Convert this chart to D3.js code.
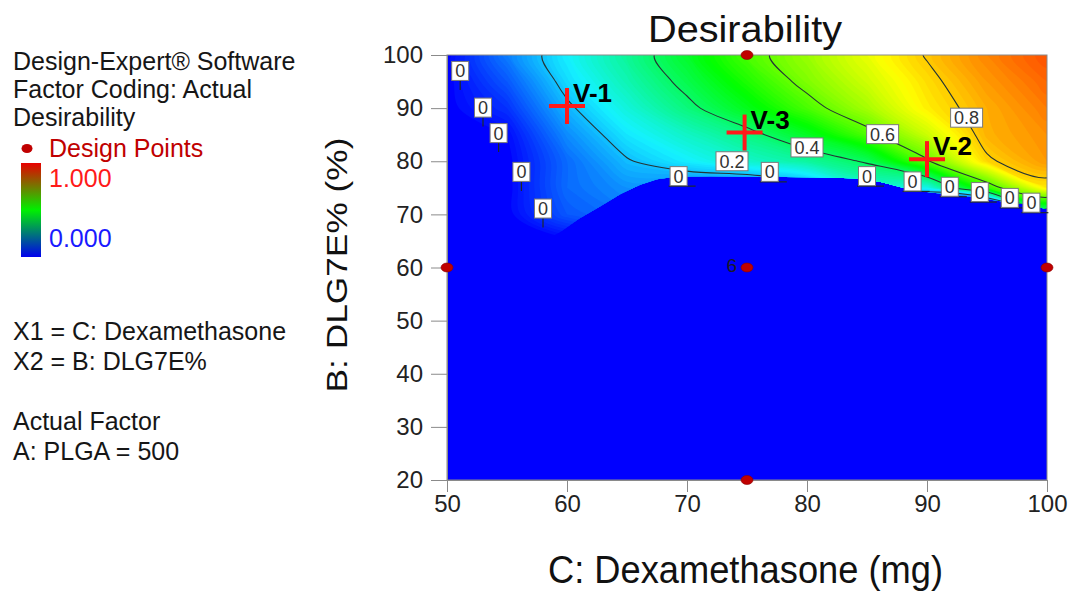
<!DOCTYPE html>
<html>
<head>
<meta charset="utf-8">
<script src="https://cdn.jsdelivr.net/npm/d3@7"></script>
<style>
  html, body { margin: 0; padding: 0; background: #ffffff; }
  svg { display: block; }
</style>
</head>
<body>
<svg id="chart" width="1078" height="595"></svg>
<script>
// ---------------- DATA ----------------
// Grid of desirability estimates: columns = C: Dexamethasone, rows = B: DLG7E%
const gridX = [50, 55, 60, 65, 70, 75, 80, 85, 90, 95, 100];
const gridY = [100, 95, 90, 85, 80, 75, 70, 65];
const desirability = [
  [0, 0.13, 0.25,  0.35,  0.46,  0.57,  0.65,  0.73,  0.805, 0.87,  0.92],
  [0, 0.09, 0.226, 0.325, 0.425, 0.528, 0.624, 0.703, 0.783, 0.85,  0.90],
  [0, 0.05, 0.186, 0.285, 0.379, 0.474, 0.57,  0.662, 0.765, 0.83,  0.88],
  [0, 0.01, 0.144, 0.239, 0.306, 0.373, 0.465, 0.574, 0.699, 0.825, 0.86],
  [0, 0,    0.11,  0.194, 0.247, 0.30,  0.345, 0.41,  0.59,  0.79,  0.85],
  [0, 0,    0.11,  0.15,  0.12,  0.10,  0.15,  0.285, 0.27,  0.55,  0.77],
  [0, 0,    0.09,  0.12,  0,     0,     0,     0,     -0.2,  -0.39, 0.30],
  [0, 0,    0,     0,     0,     0,     0,     0,     0,     0,     0]
];
// Edge of the feasible (non-zero) region
const boundaryX = [50, 58.5, 59.5, 61, 62.75, 64.5, 66.1, 67.5, 69, 72, 76, 80, 84, 86, 88, 90, 92, 94, 96, 98, 100];
const boundaryY = [65.5, 65.5, 66.8, 69.2, 71.5, 73.9, 75.6, 76.6, 77.1, 77.2, 77.1, 77.0, 76.8, 76.2, 75.0, 74.2, 73.7, 73.2, 72.5, 72.0, 71.0];

const contourLevels = [0.2, 0.4, 0.6, 0.8];
const contourLabelText = ["0.2", "0.4", "0.6", "0.8"];
const contourLabelX = [73.75, 80.0, 86.3, 93.3];
const contourLabelY = [80.0, 82.6, 85.1, 88.2];

const zeroLeftX = [51.1, 53.0, 54.3, 56.2, 58.0];
const zeroLeftY = [97.0, 90.1, 85.3, 78.0, 71.1];
const zeroEdgeX = [69.3, 76.9, 85.0, 88.8, 91.9, 94.4, 96.9, 98.7];
const zeroEdgeY = [77.2, 78.0, 77.2, 76.2, 75.2, 74.2, 73.1, 72.2];

const designX = [75, 50, 75, 100, 75];
const designY = [100, 60, 60, 60, 20];
const designLabel = ["", "", "6", "", ""];

const vNames = ["V-1", "V-2", "V-3"];
const vX = [60, 90, 74.8];
const vY = [90.4, 80.4, 85.4];

const xTicks = [50, 60, 70, 80, 90, 100];
const yTicks = [20, 30, 40, 50, 60, 70, 80, 90, 100];

const legendTop = ["Design-Expert\u00AE Software", "Factor Coding: Actual", "Desirability"];
const legendBottom = ["X1 = C: Dexamethasone", "X2 = B: DLG7E%", "", "Actual Factor", "A: PLGA = 500"];

// ---------------- DRAWING ----------------
const FONT = "'Liberation Sans', Arial, Helvetica, sans-serif";
const svg = d3.select("#chart");

const x = d3.scaleLinear().domain([50, 100]).range([447, 1047]);
const y = d3.scaleLinear().domain([20, 100]).range([480, 55]);
const color = d3.scaleLinear()
  .domain([0, 0.25, 0.5, 0.75, 1])
  .range(["#0000ff", "#14f2ff", "#00ff00", "#ffff00", "#ff0000"])
  .clamp(true);

const defs = svg.append("defs");
// feasible region clip
const clipPts = [[50, 100], [100, 100]];
for (let i = boundaryX.length - 1; i >= 0; i--) clipPts.push([boundaryX[i], boundaryY[i]]);
defs.append("clipPath").attr("id", "feasible")
  .append("path")
  .attr("d", d3.line()(clipPts.map(p => [x(p[0]), y(p[1])])) + "Z");

// colour bar gradient
const grad = defs.append("linearGradient").attr("id", "cbar")
  .attr("x1", 0).attr("y1", 0).attr("x2", 0).attr("y2", 1);
grad.append("stop").attr("offset", "0%").attr("stop-color", "#e80000");
grad.append("stop").attr("offset", "50%").attr("stop-color", "#00f000");
grad.append("stop").attr("offset", "100%").attr("stop-color", "#0000ee");

// base (zero desirability)
svg.append("rect")
  .attr("x", x(50)).attr("y", y(100))
  .attr("width", x(100) - x(50)).attr("height", y(20) - y(100))
  .attr("fill", color(0));

const nx = gridX.length, ny = gridY.length;
const flat = desirability.flat();
const stepX = gridX[1] - gridX[0];
const stepY = gridY[0] - gridY[1];
const gx = c => x(gridX[0] + (c - 0.5) * stepX);
const gy = r => y(gridY[0] - (r - 0.5) * stepY);
const smooth = d3.line().curve(d3.curveCatmullRomClosed.alpha(0.5));
function multiPath(mp) {
  let d = "";
  mp.coordinates.forEach(poly => poly.forEach(ring => {
    const pts = ring.slice(0, -1).map(p => [gx(p[0]), gy(p[1])]);
    if (pts.length > 2) d += smooth(pts);
  }));
  return d;
}

const field = svg.append("g").attr("clip-path", "url(#feasible)");
const bands = d3.contours().size([nx, ny]).thresholds(d3.range(0.01, 1.0, 0.01))(flat);
field.selectAll("path.band").data(bands).join("path")
  .attr("class", "band")
  .attr("d", multiPath)
  .attr("fill", d => color(d.value + 0.005));

const lines = d3.contours().size([nx, ny]).thresholds(contourLevels)(flat);
field.selectAll("path.cline").data(lines).join("path")
  .attr("class", "cline")
  .attr("d", multiPath)
  .attr("fill", "none")
  .attr("stroke", "#253535")
  .attr("stroke-width", 1.1);

// frame
svg.append("rect")
  .attr("x", x(50)).attr("y", y(100))
  .attr("width", x(100) - x(50)).attr("height", y(20) - y(100))
  .attr("fill", "none").attr("stroke", "#8a8a8a").attr("stroke-width", 1);

// axes
const xAxis = d3.axisBottom(x).tickValues(xTicks).tickSize(12).tickPadding(3).tickSizeOuter(0);
const gxA = svg.append("g").attr("transform", `translate(0,${y(20)})`).call(xAxis);
gxA.select(".domain").attr("stroke", "#8a8a8a");
gxA.selectAll(".tick line").attr("stroke", "#8a8a8a");
gxA.selectAll(".tick text").attr("font-family", FONT).attr("font-size", 24).attr("fill", "#222");

const yAxis = d3.axisLeft(y).tickValues(yTicks).tickSize(16).tickPadding(8).tickSizeOuter(0);
const gyA = svg.append("g").attr("transform", `translate(${x(50)},0)`).call(yAxis);
gyA.select(".domain").attr("stroke", "#8a8a8a");
gyA.selectAll(".tick line").attr("stroke", "#8a8a8a");
gyA.selectAll(".tick text").attr("font-family", FONT).attr("font-size", 24).attr("fill", "#222");

// titles
svg.append("text").attr("x", 745).attr("y", 42)
  .attr("text-anchor", "middle").attr("font-family", FONT).attr("font-size", 37)
  .attr("textLength", 194).attr("lengthAdjust", "spacingAndGlyphs")
  .attr("fill", "#111").text("Desirability");
svg.append("text").attr("x", 745.5).attr("y", 583)
  .attr("text-anchor", "middle").attr("font-family", FONT).attr("font-size", 38)
  .attr("textLength", 395).attr("lengthAdjust", "spacingAndGlyphs")
  .attr("fill", "#111").text("C: Dexamethasone (mg)");
svg.append("text").attr("transform", "translate(347,265) rotate(-90)")
  .attr("text-anchor", "middle").attr("font-family", FONT).attr("font-size", 29)
  .attr("textLength", 255).attr("lengthAdjust", "spacingAndGlyphs")
  .attr("fill", "#111").text("B: DLG7E% (%)");

// zero-contour labels and their small tails
const tails = svg.append("g").attr("stroke", "#1e2a2a").attr("stroke-width", 1.2);
zeroLeftX.forEach((v, i) => {
  tails.append("line").attr("x1", x(v)).attr("x2", x(v))
    .attr("y1", y(zeroLeftY[i]) + 9).attr("y2", y(zeroLeftY[i]) + 19);
});
zeroEdgeX.forEach((v, i) => {
  tails.append("line").attr("x1", x(v) - 10).attr("x2", x(v) + 17)
    .attr("y1", y(zeroEdgeY[i]) + 10).attr("y2", y(zeroEdgeY[i]) + 10);
});

function boxLabel(g, cx, cy, txt) {
  const w = txt.length > 1 ? 32 : 17, h = 19;
  g.append("rect").attr("x", cx - w / 2).attr("y", cy - h / 2)
    .attr("width", w).attr("height", h)
    .attr("fill", "#ffffff").attr("stroke", "#7a7a7a").attr("stroke-width", 1);
  g.append("text").attr("x", cx).attr("y", cy + 6.5)
    .attr("text-anchor", "middle").attr("font-family", FONT).attr("font-size", 18)
    .attr("fill", "#333").text(txt);
}
const labelsG = svg.append("g");
zeroLeftX.forEach((v, i) => boxLabel(labelsG, x(v), y(zeroLeftY[i]), "0"));
zeroEdgeX.forEach((v, i) => boxLabel(labelsG, x(v), y(zeroEdgeY[i]), "0"));
contourLabelX.forEach((v, i) => boxLabel(labelsG, x(v), y(contourLabelY[i]), contourLabelText[i]));

// design points
svg.append("g").selectAll("ellipse").data(designX).join("ellipse")
  .attr("cx", (d) => x(d)).attr("cy", (d, i) => y(designY[i]))
  .attr("rx", 6).attr("ry", 4.5)
  .attr("fill", "#c00000").attr("stroke", "#8a0000").attr("stroke-width", 0.6);
svg.append("g").selectAll("text").data(designX).join("text")
  .attr("x", d => x(d) - 10).attr("y", (d, i) => y(designY[i]) + 4)
  .attr("text-anchor", "end").attr("font-family", FONT).attr("font-size", 19)
  .attr("fill", "#1a1a2a").text((d, i) => designLabel[i]);

// V markers
const vg = svg.append("g").selectAll("g").data(vNames).join("g")
  .attr("transform", (d, i) => `translate(${x(vX[i])},${y(vY[i])})`);
vg.append("line").attr("x1", -18).attr("x2", 18).attr("y1", 0).attr("y2", 0)
  .attr("stroke", "#ff1a1a").attr("stroke-width", 4);
vg.append("line").attr("x1", 0).attr("x2", 0).attr("y1", -18).attr("y2", 18)
  .attr("stroke", "#ff1a1a").attr("stroke-width", 4);
vg.append("text").attr("x", 6).attr("y", -4)
  .attr("font-family", FONT).attr("font-size", 26).attr("font-weight", "bold")
  .attr("fill", "#000").text(d => d);

// legend
const lg = svg.append("g").attr("font-family", FONT).attr("font-size", 25);
legendTop.forEach((t, i) => {
  lg.append("text").attr("x", 13).attr("y", [70, 97.5, 125.5][i]).attr("fill", "#161616").text(t);
});
lg.append("ellipse").attr("cx", 27).attr("cy", 148.5).attr("rx", 5.5).attr("ry", 4.5).attr("fill", "#c00000");
lg.append("text").attr("x", 49).attr("y", 157).attr("fill", "#c00000").text("Design Points");
lg.append("rect").attr("x", 21).attr("y", 163).attr("width", 20).attr("height", 94).attr("fill", "url(#cbar)");
lg.append("text").attr("x", 49).attr("y", 187).attr("fill", "#ff1a1a").text("1.000");
lg.append("text").attr("x", 49).attr("y", 247).attr("fill", "#1a1aff").text("0.000");
legendBottom.forEach((t, i) => {
  if (!t) return;
  lg.append("text").attr("x", 13).attr("y", 340 + i * 30).attr("fill", "#161616").text(t);
});
</script>
</body>
</html>
